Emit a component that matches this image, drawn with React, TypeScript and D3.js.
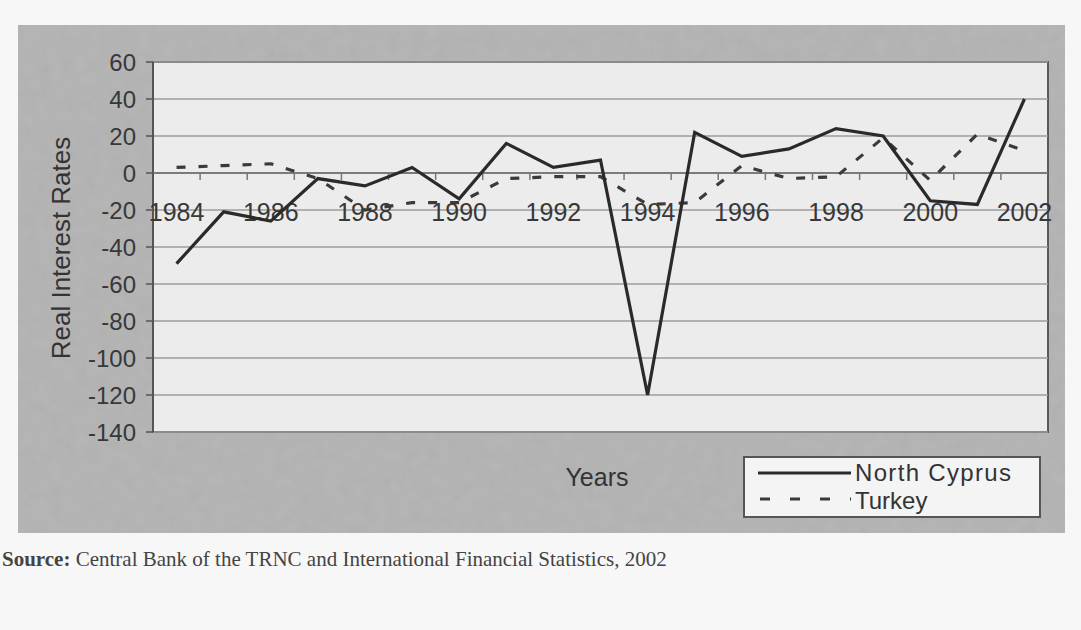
import * as d3 from 'd3';

const years = [1984, 1985, 1986, 1987, 1988, 1989, 1990, 1991, 1992, 1993, 1994, 1995, 1996, 1997, 1998, 1999, 2000, 2001, 2002];
const northCyprus = [-49, -21, -26, -3, -7, 3, -14, 16, 3, 7, -120, 22, 9, 13, 24, 20, -15, -17, 40];
const turkey = [3, 4, 5, -3, -20, -16, -16, -3, -2, -2, -17, -16, 4, -3, -2, 19, -4, 21, 12];
const yTicks = [60, 40, 20, 0, -20, -40, -60, -80, -100, -120, -140];
const xLabelYears = [1984, 1986, 1988, 1990, 1992, 1994, 1996, 1998, 2000, 2002];

const W = 1081;
const H = 630;
const plot = { left: 153, right: 1048, top: 62, bottom: 432 };
const font = 'Liberation Sans, Arial, sans-serif';

export default function App() {
  const x = d3.scaleBand<number>()
    .domain(years)
    .range([plot.left, plot.right]);
  const y = d3.scaleLinear()
    .domain([-140, 60])
    .range([plot.bottom, plot.top]);

  const cx = (yr: number) => (x(yr) as number) + x.bandwidth() / 2;

  const line = d3.line<number>()
    .x((_, i) => cx(years[i]))
    .y(d => y(d));

  const zeroY = y(0);
  const boundaries = years.slice(1).map(yr => x(yr) as number);

  return (
    <div style={{ position: 'absolute', left: 0, top: 0 }}>
      <svg width={W} height={H} style={{ display: 'block' }}>
        <defs>
          <filter id="grain">
            <feTurbulence type="fractalNoise" baseFrequency="0.08" numOctaves="3" seed="5" />
            <feColorMatrix type="saturate" values="0" />
            <feComponentTransfer>
              <feFuncA type="table" tableValues="0 0.1" />
            </feComponentTransfer>
            <feComposite in2="SourceGraphic" operator="in" />
          </filter>
        </defs>
        <rect x={0} y={0} width={W} height={H} fill="#f7f7f7" />
        {/* outer chart background */}
        <rect x={18} y={25} width={1047} height={508} fill="#b3b3b3" />
        <rect x={18} y={25} width={1047} height={508} fill="#000" filter="url(#grain)" />
        {/* plot area */}
        <rect x={plot.left} y={plot.top} width={plot.right - plot.left} height={plot.bottom - plot.top} fill="#ececec" stroke="#5a5a5a" strokeWidth={2} />

        {/* grid */}
        {yTicks.map(t => (
          <line key={t} x1={plot.left} x2={plot.right} y1={y(t)} y2={y(t)} stroke="#9c9c9c" strokeWidth={1.5} />
        ))}
        {/* y axis */}
        <line x1={plot.left} x2={plot.left} y1={plot.top} y2={plot.bottom} stroke="#555" strokeWidth={2} />
        {yTicks.map(t => (
          <g key={'yt' + t}>
            <line x1={plot.left - 7} x2={plot.left} y1={y(t)} y2={y(t)} stroke="#555" strokeWidth={1.5} />
            <text x={136} y={y(t)} dy="0.36em" textAnchor="end" fontFamily={font} fontSize={24} fill="#383838">{t}</text>
          </g>
        ))}
        {/* category axis at zero */}
        <line x1={plot.left} x2={plot.right} y1={zeroY} y2={zeroY} stroke="#6a6a6a" strokeWidth={1.5} />
        {boundaries.map((b, i) => (
          <line key={'xt' + i} x1={b} x2={b} y1={zeroY} y2={zeroY + 7} stroke="#777" strokeWidth={1.5} />
        ))}
        {xLabelYears.map(yr => (
          <text key={'xl' + yr} x={cx(yr)} y={zeroY + 39} dy="0.35em" textAnchor="middle" fontFamily={font} fontSize={25} fill="#383838">{yr}</text>
        ))}

        {/* series */}
        <path d={line(turkey) ?? ''} fill="none" stroke="#3a3a3a" strokeWidth={3.2} strokeDasharray="9,13" />
        <path d={line(northCyprus) ?? ''} fill="none" stroke="#2a2a2a" strokeWidth={3.2} strokeLinejoin="miter" />

        {/* axis titles */}
        <text transform="translate(61,248) rotate(-90)" textAnchor="middle" fontFamily={font} fontSize={26} fill="#333" dy="0.35em">Real Interest Rates</text>
        <text x={597} y={477} textAnchor="middle" dy="0.35em" fontFamily={font} fontSize={25} fill="#333">Years</text>

        {/* legend */}
        <rect x={744} y={457} width={296} height={60} fill="#f4f4f4" stroke="#555" strokeWidth={2} />
        <line x1={758} x2={851} y1={473} y2={473} stroke="#2a2a2a" strokeWidth={3.2} />
        <text x={855} y={473} dy="0.35em" fontFamily={font} fontSize={24} fill="#333" textLength={156}>North Cyprus</text>
        <line x1={760} x2={851} y1={499} y2={499} stroke="#3a3a3a" strokeWidth={3.2} strokeDasharray="10,20" />
        <text x={855} y={501} dy="0.35em" fontFamily={font} fontSize={24} fill="#333">Turkey</text>

        {/* source */}
        <text x={2} y={566} fontFamily="Liberation Serif, Times New Roman, serif" fontSize={21} fill="#444">
          <tspan fontWeight="bold">Source:</tspan> Central Bank of the TRNC and International Financial Statistics, 2002
        </text>
      </svg>
    </div>
  );
}
